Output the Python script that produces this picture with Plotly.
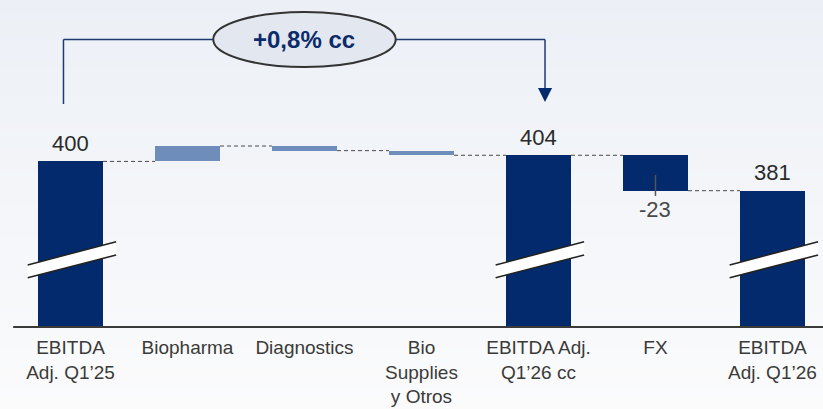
import plotly.graph_objects as go

# ---------------- data ----------------
categories = ["EBITDA<br>Adj. Q1’25", "Biopharma", "Diagnostics",
              "Bio<br>Supplies<br>y Otros", "EBITDA Adj.<br>Q1’26 cc", "FX",
              "EBITDA<br>Adj. Q1’26"]
values = [400, 10, -3, -3, 404, -23, 381]
measures = ["total", "relative", "relative", "relative", "total", "relative", "total"]
value_labels = ["400", "", "", "", "404", "-23", "381"]
bracket_text = "+0,8% cc"

# ---------------- styles ----------------
NAVY = "#032a6d"
LIGHT = "#6e8dbb"
FONT = "Liberation Sans, Arial, sans-serif"
bar_colors = [NAVY, LIGHT, LIGHT, LIGHT, NAVY, NAVY, NAVY]
BAR_W = 0.556
Y_MIN, Y_MAX = 292.5, 504.8
W, H = 823, 409
B_MARGIN = 82
PLOT_H = H - B_MARGIN

# running totals -> bases / levels
bases, levels = [], []
level = 0
for v, m in zip(values, measures):
    if m == "total":
        bases.append(0)
        level = v
    else:
        bases.append(level)
        level = level + v
    levels.append(level)

x_idx = list(range(len(categories)))

fig = go.Figure()
fig.add_trace(go.Bar(
    x=x_idx, y=values, base=bases, width=[BAR_W] * len(x_idx),
    marker=dict(color=bar_colors, line=dict(width=0)),
    hoverinfo="skip", showlegend=False,
))

shapes = []

# background gradient (stepped)
top_c = (236, 240, 246)
bot_c = (251, 251, 252)
n = 60
y_top, y_bot = 1.0, -B_MARGIN / PLOT_H
for k in range(n):
    t = k / (n - 1)
    c = tuple(round(top_c[j] + (bot_c[j] - top_c[j]) * t) for j in range(3))
    y0 = y_top + (y_bot - y_top) * k / n
    y1 = y_top + (y_bot - y_top) * (k + 1) / n
    shapes.append(dict(type="rect", xref="paper", yref="paper", x0=-0.01, x1=1.01,
                       y0=y1 - 0.003, y1=y0, fillcolor="rgb(%d,%d,%d)" % c,
                       line=dict(width=0), layer="below"))

# connectors
for i in range(len(x_idx) - 1):
    shapes.append(dict(type="line", xref="x", yref="y",
                       x0=i + BAR_W / 2, x1=i + 1 - BAR_W / 2,
                       y0=levels[i], y1=levels[i],
                       line=dict(color="#4a4a4a", width=1, dash="4px,3px")))

# baseline axis
shapes.append(dict(type="line", xref="x", yref="paper", x0=-0.49, x1=6.6,
                   y0=0, y1=0, line=dict(color="#3a3a3a", width=2)))

# break marks on total bars
def px2paper(p):
    return (PLOT_H - p) / PLOT_H

for i, m in enumerate(measures):
    if m != "total":
        continue
    xl, xr = i - 0.366, i + 0.39
    lt, lb = px2paper(265), px2paper(277.7)
    rt, rb = px2paper(241.7), px2paper(255)
    shapes.append(dict(type="path", xref="x", yref="paper",
                       path=f"M{xl},{lt} L{xr},{rt} L{xr},{rb} L{xl},{lb} Z",
                       fillcolor="white", line=dict(width=0)))
    shapes.append(dict(type="line", xref="x", yref="paper", x0=xl, x1=xr, y0=lt, y1=rt,
                       line=dict(color="#222222", width=1.5)))
    shapes.append(dict(type="line", xref="x", yref="paper", x0=xl, x1=xr, y0=lb, y1=rb,
                       line=dict(color="#222222", width=1.5)))

# FX tick line
fx_i = categories.index("FX")
shapes.append(dict(type="line", xref="x", yref="y", x0=fx_i, x1=fx_i,
                   y0=levels[fx_i] + 10.2, y1=levels[fx_i] - 3.4,
                   line=dict(color="#555555", width=1.5)))

# bracket
BR = "#1f3a70"
y_line = px2paper(39.5)
x_left, x_right = 0 - 0.06, 4 + 0.056
x_mid = (0 + 4) / 2
half_w = 0.78
shapes.append(dict(type="line", xref="x", yref="paper", x0=x_left, x1=x_left,
                   y0=px2paper(104), y1=y_line, line=dict(color=BR, width=1.5)))
shapes.append(dict(type="line", xref="x", yref="paper", x0=x_left, x1=x_mid - half_w,
                   y0=y_line, y1=y_line, line=dict(color=BR, width=1.5)))
shapes.append(dict(type="line", xref="x", yref="paper", x0=x_mid + half_w, x1=x_right,
                   y0=y_line, y1=y_line, line=dict(color=BR, width=1.5)))
shapes.append(dict(type="line", xref="x", yref="paper", x0=x_right, x1=x_right,
                   y0=y_line, y1=px2paper(89), line=dict(color=BR, width=1.5)))
ah = 0.06
shapes.append(dict(type="path", xref="x", yref="paper",
                   path=f"M{x_right - ah},{px2paper(88)} L{x_right + ah},{px2paper(88)} "
                        f"L{x_right},{px2paper(102)} Z",
                   fillcolor=NAVY, line=dict(width=0)))
shapes.append(dict(type="circle", xref="x", yref="paper",
                   x0=x_mid - half_w, x1=x_mid + half_w,
                   y0=px2paper(67), y1=px2paper(12),
                   fillcolor="#e3e8f0", line=dict(color="#333333", width=2)))

annotations = []
for i, lab in enumerate(value_labels):
    if not lab:
        continue
    if measures[i] == "total":
        annotations.append(dict(x=i, y=values[i], xref="x", yref="y", text=lab,
                                showarrow=False, yanchor="middle", yshift=18,
                                font=dict(family=FONT, size=22, color="#2b2b2b")))
    else:
        annotations.append(dict(x=i, y=levels[i], xref="x", yref="y", text=lab,
                                showarrow=False, yanchor="middle", yshift=-19,
                                font=dict(family=FONT, size=22, color="#4a4a4a")))
annotations.append(dict(x=x_mid, y=px2paper(39.5), xref="x", yref="paper",
                        text="<b>" + bracket_text + "</b>", showarrow=False,
                        yanchor="middle",
                        font=dict(family=FONT, size=24, color="#0b2b6b")))

fig.update_layout(
    width=W, height=H,
    margin=dict(l=0, r=0, t=0, b=B_MARGIN),
    paper_bgcolor="#f8f9fb", plot_bgcolor="rgba(0,0,0,0)",
    bargap=0, shapes=shapes, annotations=annotations,
    xaxis=dict(range=[-0.6026, 6.432], tickmode="array", tickvals=x_idx,
               ticktext=categories, showgrid=False, zeroline=False, showline=False,
               ticks="", ticklabelstandoff=7,
               tickfont=dict(family=FONT, size=19, color="#3a3a3a"),
               automargin=False, fixedrange=True),
    yaxis=dict(range=[Y_MIN, Y_MAX], visible=False, showgrid=False, zeroline=False,
               automargin=False, fixedrange=True),
    font=dict(family=FONT),
)

fig.write_html(
    "out.html",
    config={"displayModeBar": False},
    post_script="document.body.style.margin='0';document.body.style.overflow='hidden';",
)
